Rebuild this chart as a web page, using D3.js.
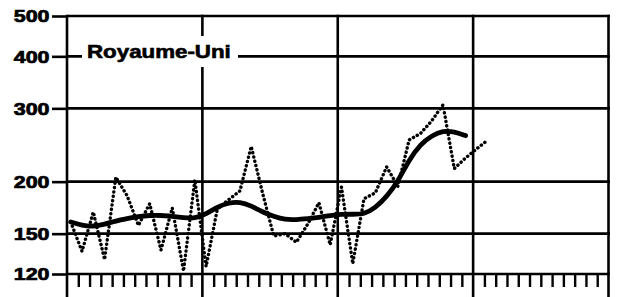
<!DOCTYPE html>
<html>
<head>
<meta charset="utf-8">
<script src="https://cdn.jsdelivr.net/npm/d3@7"></script>
<style>
  body { margin: 0; background: #fff; }
  svg { display: block; }
  text { font-family: "Liberation Sans", Arial, sans-serif; font-weight: bold; }
</style>
</head>
<body>
<div id="chart"></div>
<script>
// monthly index over 4 years (48 months), log scale index
const sTitle = "Royaume-Uni";
const aYTicks = [120, 150, 200, 300, 400, 500];
const aMonths = d3.range(38); // months with observed values
const aValues = [160, 136, 169, 130, 205, 185, 157, 177, 137, 173, 122, 202,
                 125, 172, 181, 190, 243, 188, 148, 150, 143, 158, 178, 141,
                 194, 127, 182, 188, 217, 195, 252, 261, 280, 306, 215, 228,
                 240, 252];
const aTrendMonths = d3.range(36);
const aTrend = [160, 157, 156, 158, 161, 163, 165, 166, 166, 165, 164, 163,
                167, 174, 178, 179, 175, 169, 165, 162, 162, 163, 164, 166,
                167, 167, 167, 173, 184, 200, 226, 246, 258, 265, 264, 258];

const iWidth = 618, iHeight = 297;
const oPlot = { left: 67, right: 608.5, top: 16, bottom: 274 };
const fOffset = 0.33; // points sit a little after the month tick

const d3Svg = d3.select("#chart").append("svg")
    .attr("width", iWidth).attr("height", iHeight);

const xScale = d3.scaleLinear().domain([0, 48]).range([oPlot.left, oPlot.right]);
const yScale = d3.scaleLog().domain([120, 500]).range([oPlot.bottom, oPlot.top]);

// horizontal grid lines
d3Svg.append("g").selectAll("line").data(aYTicks).enter().append("line")
    .attr("x1", oPlot.left).attr("x2", oPlot.right + 1.5)
    .attr("y1", d => yScale(d)).attr("y2", d => yScale(d))
    .attr("stroke", "#000").attr("stroke-width", 2.6);

// year lines, running below the axis
d3Svg.append("g").selectAll("line").data([0, 12, 24, 36, 48]).enter().append("line")
    .attr("x1", d => xScale(d)).attr("x2", d => xScale(d))
    .attr("y1", oPlot.top - 1.3).attr("y2", iHeight)
    .attr("stroke", "#000").attr("stroke-width", 2.6);

// y axis with bold labels
const gY = d3Svg.append("g").attr("transform", `translate(${oPlot.left},0)`)
    .call(d3.axisLeft(yScale).tickValues(aYTicks).tickFormat(d3.format("d")).tickSize(15).tickPadding(2));
gY.select(".domain").remove();
gY.selectAll(".tick line").attr("stroke-width", 2.6);
gY.selectAll(".tick text")
    .attr("font-size", 16.5).attr("fill", "#000").attr("x", 0).attr("dy", "0.36em")
    .attr("stroke", "#000").attr("stroke-width", 0.7)
    .attr("transform", "translate(-17.5,0) scale(1.3,1)");

// monthly ticks below the axis
const aMinor = d3.range(1, 48).filter(m => m % 12 !== 0);
const gX = d3Svg.append("g").attr("transform", `translate(0,${oPlot.bottom})`)
    .call(d3.axisBottom(xScale).tickValues(aMinor).tickSize(13).tickFormat(""));
gX.select(".domain").remove();
gX.selectAll(".tick line").attr("stroke-width", 2.4);

// title with white box over the grid
const gTitle = d3Svg.append("g");
gTitle.append("rect").attr("x", 82).attr("y", 36).attr("width", 156).attr("height", 31).attr("fill", "#fff");
gTitle.append("text").text(sTitle)
    .attr("font-size", 18).attr("fill", "#000")
    .attr("stroke", "#000").attr("stroke-width", 0.6)
    .attr("transform", `translate(87,58) scale(1.24,1)`);

// dotted monthly series
const lineValues = d3.line()
    .x((d, i) => xScale(aMonths[i] + fOffset))
    .y(d => yScale(d));
d3Svg.append("path").datum(aValues)
    .attr("d", lineValues)
    .attr("fill", "none").attr("stroke", "#000")
    .attr("stroke-width", 3.4).attr("stroke-linecap", "round")
    .attr("stroke-dasharray", "0.2,4.2");

// smooth trend
const lineTrend = d3.line()
    .x((d, i) => xScale(aTrendMonths[i] + fOffset))
    .y(d => yScale(d))
    .curve(d3.curveBasis);
d3Svg.append("path").datum(aTrend)
    .attr("d", lineTrend)
    .attr("fill", "none").attr("stroke", "#000")
    .attr("stroke-width", 4.8).attr("stroke-linecap", "round");
</script>
</body>
</html>
